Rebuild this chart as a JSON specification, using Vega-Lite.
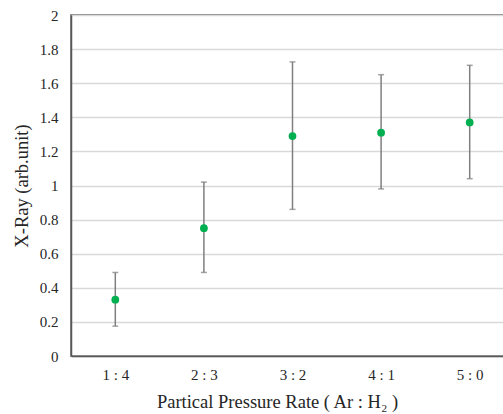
{
  "$schema": "https://vega.github.io/schema/vega-lite/v6.json",
  "autosize": {"type": "none"},
  "padding": {"left": 71, "top": 15, "right": 0, "bottom": 58},
  "width": 443,
  "height": 341,
  "background": "white",
  "config": {
    "view": {"stroke": "#595959", "strokeWidth": 1.5},
    "font": "Liberation Serif",
    "axis": {
      "labelFont": "Liberation Serif",
      "titleFont": "Liberation Serif",
      "labelColor": "#262626",
      "titleColor": "#262626",
      "titleFontWeight": "normal",
      "domainColor": "#595959",
      "domainWidth": 1.5,
      "ticks": false,
      "labelOverlap": false,
      "gridColor": "#d9d9d9",
      "gridWidth": 1.5
    },
    "axisY": {
      "title": "X-Ray (arb.unit)",
      "values": [0, 0.2, 0.4, 0.6, 0.8, 1, 1.2, 1.4, 1.6, 1.8, 2],
      "format": "~g",
      "labelFontSize": 15,
      "labelPadding": 13,
      "titleFontSize": 18.5,
      "titlePadding": 8,
      "grid": true
    }
  },
  "data": {
    "values": [
      {"ratio": "1 : 4", "value": 0.33, "lo": 0.175, "hi": 0.49},
      {"ratio": "2 : 3", "value": 0.75, "lo": 0.49, "hi": 1.02},
      {"ratio": "3 : 2", "value": 1.29, "lo": 0.86, "hi": 1.725},
      {"ratio": "4 : 1", "value": 1.31, "lo": 0.98, "hi": 1.65},
      {"ratio": "5 : 0", "value": 1.37, "lo": 1.04, "hi": 1.705}
    ]
  },
  "encoding": {
    "x": {
      "field": "ratio",
      "type": "nominal",
      "sort": null,
      "scale": {"type": "point", "padding": 0.5},
      "axis": {
        "title": "Partical Pressure Rate ( Ar : H₂ )",
        "labelAngle": 0,
        "labelFontSize": 15,
        "labelPadding": 11,
        "titleFontSize": 18.5,
        "titlePadding": 10,
        "titleX": 206,
        "grid": false
      }
    }
  },
  "layer": [
    {
      "mark": {"type": "rule", "color": "#7f7f7f", "strokeWidth": 1.5},
      "encoding": {
        "y": {
          "field": "lo",
          "type": "quantitative",
          "scale": {"domain": [0, 2], "nice": false},
          "axis": {"title": "X-Ray (arb.unit)", "values": [0, 0.2, 0.4, 0.6, 0.8, 1, 1.2, 1.4, 1.6, 1.8, 2]}
        },
        "y2": {"field": "hi"}
      }
    },
    {
      "mark": {"type": "tick", "color": "#7f7f7f", "size": 6, "thickness": 1.5, "orient": "horizontal"},
      "encoding": {"y": {"field": "lo", "type": "quantitative", "axis": {"title": "X-Ray (arb.unit)", "values": [0, 0.2, 0.4, 0.6, 0.8, 1, 1.2, 1.4, 1.6, 1.8, 2]}}}
    },
    {
      "mark": {"type": "tick", "color": "#7f7f7f", "size": 6, "thickness": 1.5, "orient": "horizontal"},
      "encoding": {"y": {"field": "hi", "type": "quantitative", "axis": {"title": "X-Ray (arb.unit)", "values": [0, 0.2, 0.4, 0.6, 0.8, 1, 1.2, 1.4, 1.6, 1.8, 2]}}}
    },
    {
      "mark": {"type": "point", "filled": true, "color": "#00b050", "opacity": 1, "size": 60},
      "encoding": {"y": {"field": "value", "type": "quantitative", "axis": {"title": "X-Ray (arb.unit)", "values": [0, 0.2, 0.4, 0.6, 0.8, 1, 1.2, 1.4, 1.6, 1.8, 2]}}}
    }
  ]
}
